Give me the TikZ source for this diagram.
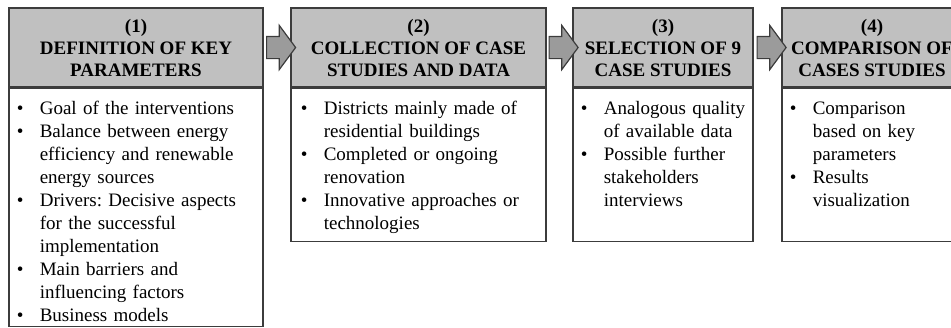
\documentclass[tikz,border=0pt]{standalone}
\usepackage{fontspec}
\setmainfont{Liberation Serif}
\usetikzlibrary{positioning,calc,shapes.arrows}
\definecolor{headgray}{RGB}{192,192,192}
\definecolor{arrowgray}{RGB}{155,155,155}
\definecolor{linegray}{RGB}{60,60,60}
\newcommand{\bul}{\par\noindent\hangindent=11.5pt\hangafter=1\makebox[11.5pt][l]{\textbullet}}
\tikzset{head/.style={rectangle, draw=linegray, fill=headgray, line width=0.6pt, minimum height=39.5pt, inner sep=0pt, align=center, font=\fontsize{9.5}{11}\selectfont\bfseries},
	body/.style={rectangle, draw=linegray, fill=white, line width=0.6pt, inner sep=0pt},
	list/.style={anchor=north west, inner sep=0pt, text width=#1, font=\fontsize{9.5}{11.5}\selectfont\frenchspacing\raggedright},
	flow/.style={single arrow, draw=linegray, fill=arrowgray, line width=0.6pt, inner xsep=0pt, inner ysep=5.25pt, minimum height=14.5pt, minimum width=21.5pt, single arrow head extend=5.5pt, single arrow tip angle=107}}

\begin{document}
\begin{tikzpicture}[x=0.5pt,y=-0.5pt]
		\useasboundingbox (0,0) rectangle (951,327);
		\clip (0,0) rectangle (951,327);
		\node[head, minimum width=127pt] (h1) at (136,47.5) {(1)\\DEFINITION OF KEY\\PARAMETERS};
		\node[head, minimum width=127.5pt] (h2) at (418.5,47.5) {(2)\\COLLECTION OF CASE\\STUDIES AND DATA};
		\node[head, minimum width=90pt] (h3) at (663,47.5) {(3)\\SELECTION OF 9\\CASE STUDIES};
		\node[head, minimum width=90pt] (h4) at (872,47.5) {(4)\\COMPARISON OF\\CASES STUDIES};
		\node[body, below=0pt of h1, minimum width=127pt, minimum height=119pt] (b1) {};
		\node[body, below=0pt of h2, minimum width=127.5pt, minimum height=76.5pt] (b2) {};
		\node[body, below=0pt of h3, minimum width=90pt, minimum height=76.5pt] (b3) {};
		\node[body, below=0pt of h4, minimum width=90pt, minimum height=76.5pt] (b4) {};
		\node[list=120pt] (t1) at ([xshift=4pt,yshift=-1.5pt]b1.north west) {\bul Goal of the interventions
			\bul Balance between energy\newline efficiency and renewable\newline energy sources
			\bul Drivers: Decisive aspects\newline for the successful\newline implementation
			\bul Main barriers and\newline influencing factors
			\bul Business models\par};
		\node[list=120pt] (t2) at ([xshift=5pt,yshift=-1.5pt]b2.north west) {\bul Districts mainly made of\newline residential buildings
			\bul Completed or ongoing\newline renovation
			\bul Innovative approaches or\newline technologies\par};
		\node[list=86pt] (t3) at ([xshift=4pt,yshift=-1.5pt]b3.north west) {\bul Analogous quality\newline of available data
			\bul Possible further\newline stakeholders\newline interviews\par};
		\node[list=86pt] (t4) at ([xshift=4pt,yshift=-1.5pt]b4.north west) {\bul Comparison\newline based on key\newline parameters
			\bul Results\newline visualization\par};
		\node[flow] (a12) at ($(h1.east)!0.5!(h2.west)$) {};
		\node[flow] (a23) at ($(h2.east)!0.5!(h3.west)$) {};
		\node[flow] (a34) at ($(h3.east)!0.5!(h4.west)$) {};
		\end{tikzpicture}
\end{document}
